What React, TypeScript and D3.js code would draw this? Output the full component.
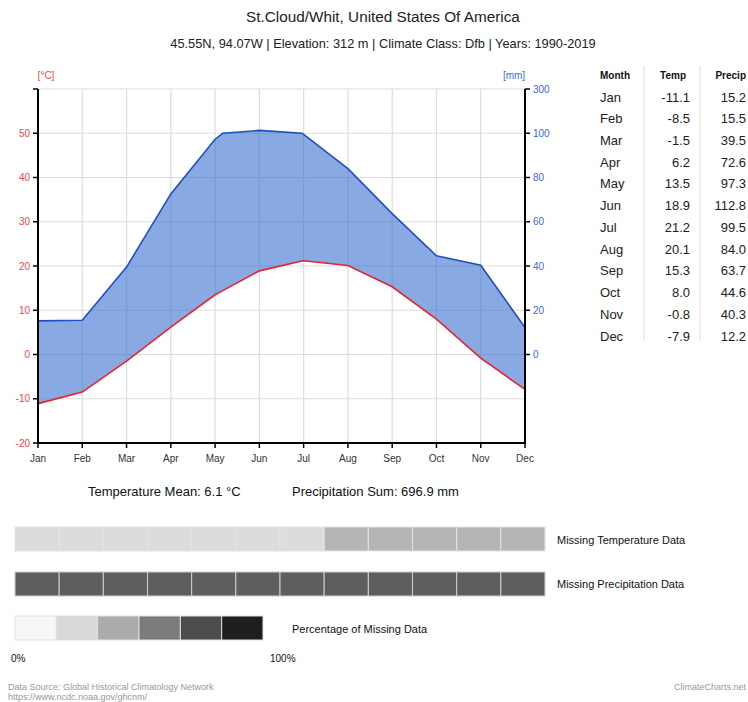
import { useEffect } from 'react'
import * as d3 from 'd3'

const months = ['Jan', 'Feb', 'Mar', 'Apr', 'May', 'Jun', 'Jul', 'Aug', 'Sep', 'Oct', 'Nov', 'Dec']
const temps = [-11.1, -8.5, -1.5, 6.2, 13.5, 18.9, 21.2, 20.1, 15.3, 8.0, -0.8, -7.9]
const precs = [15.2, 15.5, 39.5, 72.6, 97.3, 112.8, 99.5, 84.0, 63.7, 44.6, 40.3, 12.2]
const tempTicks = [-20, -10, 0, 10, 20, 30, 40, 50, 60]
const precTicks = [0, 20, 40, 60, 80, 100, 300]
const tempMean = '6.1'
const precSum = '696.9'
// share of missing values per month, as grey levels of the legend (0..5)
const missingTemp = [1, 1, 1, 1, 1, 1, 1, 2, 2, 2, 2, 2]
const missingPrec = [4, 4, 4, 4, 4, 4, 4, 4, 4, 4, 4, 4]
const legendGreys = ['#f7f7f7', '#d9d9d9', '#ababab', '#7b7b7b', '#4d4d4d', '#1e1e1e']
const missingBarGreys = ['#f7f7f7', '#dcdcdc', '#b5b5b5', '#7b7b7b', '#5e5e5e', '#1e1e1e']

const font = '"Liberation Sans", Arial, sans-serif'

export default function App() {
    useEffect(() => {
        document.body.style.margin = '0'
    }, [])

    const width = 748
    const height = 702
    const left = 38
    const right = 525
    const top = 89
    const bottom = 443

    const x = d3.scaleLinear().domain([0, 11]).range([left, right])
    const y = d3.scaleLinear().domain([-20, 60]).range([bottom, top])
    const yp = d3.scaleLinear().domain([0, 100, 300]).range([y(0), y(50), y(60)])

    // month index (possibly fractional where precip crosses the 100 mm scale break)
    type Pt = { i: number, t: number, p: number }
    const pts: Pt[] = []
    months.forEach((_, i) => {
        if (i > 0) {
            const p0 = precs[i - 1], p1 = precs[i]
            if ((p0 - 100) * (p1 - 100) < 0) {
                const f = (100 - p0) / (p1 - p0)
                pts.push({ i: i - 1 + f, t: temps[i - 1] + f * (temps[i] - temps[i - 1]), p: 100 })
            }
        }
        pts.push({ i, t: temps[i], p: precs[i] })
    })

    const area = d3.area<Pt>()
        .x(d => x(d.i))
        .y0(d => y(d.t))
        .y1(d => yp(d.p))
    const tempLine = d3.line<Pt>().x(d => x(d.i)).y(d => y(d.t))
    const precLine = d3.line<Pt>().x(d => x(d.i)).y(d => yp(d.p))

    const cellX = d3.scaleBand<number>().domain(d3.range(12)).range([15, 545])
    const legX = d3.scaleBand<number>().domain(d3.range(6)).range([15, 263])

    const rowY = d3.scaleLinear().domain([0, 11]).range([97, 336])

    return (
        <svg width={width} height={height} style={{ display: 'block', fontFamily: font }}>
            <rect width={width} height={height} fill="#fff" />
            <text x={383} y={22} textAnchor="middle" fontSize={15.3} fill="#222">St.Cloud/Whit, United States Of America</text>
            <text x={383} y={48} textAnchor="middle" fontSize={12.8} fill="#222">45.55N, 94.07W | Elevation: 312 m | Climate Class: Dfb | Years: 1990-2019</text>

            {/* grid */}
            {tempTicks.map(t => (
                <line key={'h' + t} x1={left} x2={right} y1={y(t)} y2={y(t)} stroke="#ddd" strokeWidth={1.2} />
            ))}
            {months.map((m, i) => (
                <line key={'v' + m} x1={x(i)} x2={x(i)} y1={top} y2={bottom} stroke="#ddd" strokeWidth={1.2} />
            ))}

            <path d={area(pts)!} fill="#3a6fd0" fillOpacity={0.6} />
            <path d={precLine(pts)!} fill="none" stroke="#1f4fc0" strokeWidth={1.6} />
            <path d={tempLine(pts)!} fill="none" stroke="#e8232b" strokeWidth={1.6} />

            {/* left axis */}
            <line x1={left} x2={left} y1={top} y2={bottom} stroke="#000" strokeWidth={2} />
            {tempTicks.map(t => (
                <g key={'lt' + t}>
                    <line x1={left - 5} x2={left} y1={y(t)} y2={y(t)} stroke="#000" strokeWidth={1.5} />
                    {t < 60 && (
                        <text x={left - 8} y={y(t)} dy="0.35em" textAnchor="end" fontSize={10} fill="#f04848">{t}</text>
                    )}
                </g>
            ))}
            <text x={46} y={79} textAnchor="middle" fontSize={10} fill="#f04848">[°C]</text>

            {/* right axis */}
            <line x1={right} x2={right} y1={top} y2={bottom} stroke="#000" strokeWidth={2} />
            {precTicks.map(p => (
                <g key={'rt' + p}>
                    <line x1={right} x2={right + 5} y1={yp(p)} y2={yp(p)} stroke="#000" strokeWidth={1.5} />
                    <text x={right + 8} y={yp(p)} dy="0.35em" fontSize={10} fill="#3d6ad6">{p}</text>
                </g>
            ))}
            <text x={514} y={79} textAnchor="middle" fontSize={10} fill="#3d6ad6">[mm]</text>

            {/* bottom axis */}
            <line x1={left - 1} x2={right + 1} y1={bottom} y2={bottom} stroke="#000" strokeWidth={2} />
            {months.map((m, i) => (
                <g key={'bt' + m}>
                    <line x1={x(i)} x2={x(i)} y1={bottom} y2={bottom + 5} stroke="#000" strokeWidth={1.5} />
                    <text x={x(i)} y={bottom + 19} textAnchor="middle" fontSize={10} fill="#333">{m}</text>
                </g>
            ))}

            {/* table */}
            <line x1={644} x2={644} y1={66} y2={341} stroke="#ddd" />
            <line x1={700} x2={700} y1={66} y2={341} stroke="#ddd" />
            <text x={600} y={79} fontSize={10} fontWeight="bold" fill="#111">Month</text>
            <text x={686} y={79} textAnchor="end" fontSize={10} fontWeight="bold" fill="#111">Temp</text>
            <text x={746} y={79} textAnchor="end" fontSize={10} fontWeight="bold" fill="#111">Precip</text>
            {months.map((m, i) => (
                <g key={'row' + m} fontSize={13} fill="#222">
                    <text x={600} y={rowY(i)} dy="0.35em">{m}</text>
                    <text x={690} y={rowY(i)} dy="0.35em" textAnchor="end">{temps[i].toFixed(1)}</text>
                    <text x={746} y={rowY(i)} dy="0.35em" textAnchor="end">{precs[i].toFixed(1)}</text>
                </g>
            ))}

            <text x={88} y={496} fontSize={13} fill="#111">Temperature Mean: {tempMean} °C</text>
            <text x={292} y={496} fontSize={13} fill="#111">Precipitation Sum: {precSum} mm</text>

            {/* missing data */}
            {missingTemp.map((v, i) => (
                <rect key={'mt' + i} x={cellX(i)} y={527} width={cellX.bandwidth()} height={24}
                    fill={missingBarGreys[v]} stroke="#e4e4e4" strokeWidth={1} />
            ))}
            <text x={557} y={544} fontSize={11} fill="#111">Missing Temperature Data</text>
            {missingPrec.map((v, i) => (
                <rect key={'mp' + i} x={cellX(i)} y={572} width={cellX.bandwidth()} height={24}
                    fill={missingBarGreys[v]} stroke="#d0d0d0" strokeWidth={1} />
            ))}
            <text x={557} y={588} fontSize={11} fill="#111">Missing Precipitation Data</text>
            {legendGreys.map((c, i) => (
                <rect key={'lg' + i} x={legX(i)} y={616} width={legX.bandwidth()} height={24}
                    fill={c} stroke="#e0e0e0" strokeWidth={1} />
            ))}
            <text x={292} y={633} fontSize={11} fill="#111">Percentage of Missing Data</text>
            <text x={11} y={662} fontSize={10} fill="#111">0%</text>
            <text x={270} y={662} fontSize={10} fill="#111">100%</text>

            <text x={8} y={690} fontSize={9} fill="#999">Data Source: Global Historical Climatology Network</text>
            <text x={8} y={700} fontSize={9} fill="#999">https://www.ncdc.noaa.gov/ghcnm/</text>
            <text x={746} y={690} textAnchor="end" fontSize={9} fill="#999">ClimateCharts.net</text>
        </svg>
    )
}
